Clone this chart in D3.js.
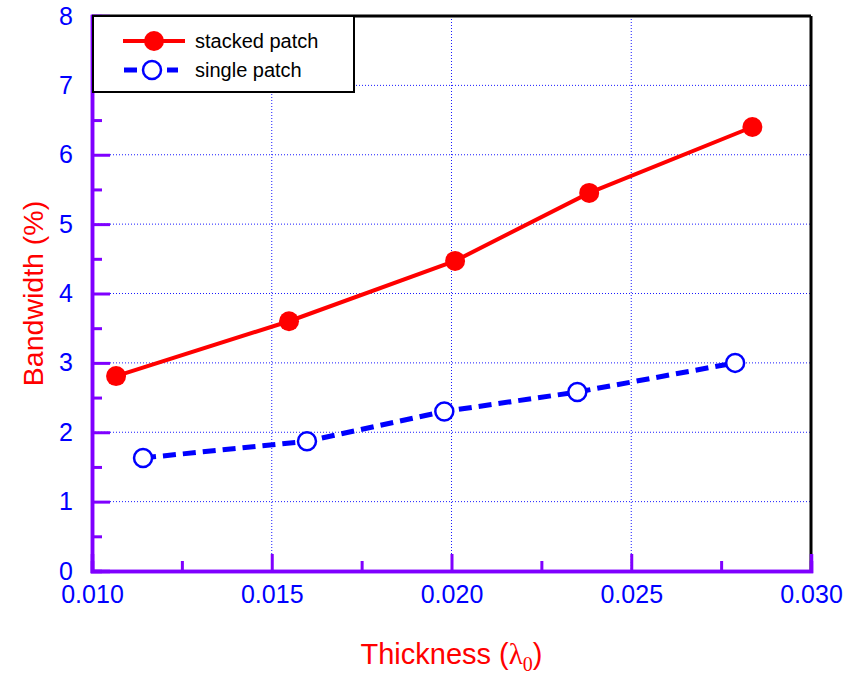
<!DOCTYPE html>
<html><head><meta charset="utf-8">
<script src="https://cdn.jsdelivr.net/npm/d3@7"></script>
<style>body{margin:0;background:#fff}svg{display:block;font-family:"Liberation Sans",Arial,sans-serif}</style>
</head><body>
<svg id="c" width="848" height="677"></svg>
<script>
const stackedX = [0.01067, 0.01548, 0.02010, 0.02383, 0.02837];
const stackedY = [2.81, 3.60, 4.47, 5.45, 6.40];
const singleX = [0.01142, 0.01598, 0.01980, 0.02350, 0.02789];
const singleY = [1.63, 1.87, 2.30, 2.58, 3.00];
const xTicks = [0.010, 0.015, 0.020, 0.025, 0.030];
const yTicks = [0, 1, 2, 3, 4, 5, 6, 7, 8];
const seriesNames = ["stacked patch", "single patch"];

const L = 92, R = 811, T = 16, B = 571;
const svg = d3.select("#c");
const x = d3.scaleLinear().domain([0.010, 0.030]).range([L, R]);
const y = d3.scaleLinear().domain([0, 8]).range([B, T]);
const purple = "#7f00ff";

// grid
const g = svg.append("g");
g.selectAll(".gx").data(xTicks.slice(1, -1)).join("line")
  .attr("x1", d => x(d)).attr("x2", d => x(d)).attr("y1", T).attr("y2", B)
  .attr("stroke", "#1a1aff").attr("stroke-width", 1).attr("stroke-dasharray", "1,2");
g.selectAll(".gy").data(yTicks.slice(1, -1)).join("line")
  .attr("y1", d => y(d)).attr("y2", d => y(d)).attr("x1", L).attr("x2", R)
  .attr("stroke", "#1a1aff").attr("stroke-width", 1).attr("stroke-dasharray", "1,2");

// frame top/right
svg.append("line").attr("x1", L).attr("x2", R).attr("y1", T).attr("y2", T).attr("stroke", "#000").attr("stroke-width", 3);
svg.append("line").attr("x1", R).attr("x2", R).attr("y1", T).attr("y2", B).attr("stroke", "#000").attr("stroke-width", 3);

// axes (inward ticks)
const xMinor = d3.range(0.0125, 0.030, 0.005);
const xa = svg.append("g").attr("transform", `translate(0,${B})`)
  .call(d3.axisBottom(x).tickValues(xTicks).tickFormat(d3.format(".3f")).tickSize(-17).tickPadding(27));
const xm = svg.append("g").attr("transform", `translate(0,${B})`)
  .call(d3.axisBottom(x).tickValues(xMinor).tickFormat("").tickSize(-10));
const ya = svg.append("g").attr("transform", `translate(${L},0)`)
  .call(d3.axisLeft(y).tickValues(yTicks).tickFormat(d3.format("d")).tickSize(-18).tickPadding(19));
const yMinor = d3.range(0.5, 8, 1);
const ym = svg.append("g").attr("transform", `translate(${L},0)`)
  .call(d3.axisLeft(y).tickValues(yMinor).tickFormat("").tickSize(-10));
[xa, xm, ya, ym].forEach(a => {
  a.select(".domain").attr("stroke", purple).attr("stroke-width", 3.5);
  a.selectAll(".tick line").attr("stroke", purple).attr("stroke-width", 3);
  a.selectAll(".tick text").attr("fill", "#0000ff").attr("font-size", 25)
    .attr("font-family", "'Liberation Sans',Arial,sans-serif");
});
xa.selectAll(".tick text").attr("dy", "0.2em");

// series
const line = d3.line().x(d => x(d[0])).y(d => y(d[1]));
const stacked = stackedX.map((v, i) => [v, stackedY[i]]);
const single = singleX.map((v, i) => [v, singleY[i]]);
svg.append("path").datum(stacked).attr("d", line).attr("fill", "none").attr("stroke", "#ff0000").attr("stroke-width", 4);
svg.append("path").datum(single).attr("d", line).attr("fill", "none").attr("stroke", "#0000ff").attr("stroke-width", 5).attr("stroke-dasharray", "13,7");
svg.selectAll(".ps").data(stacked).join("circle").attr("cx", d => x(d[0])).attr("cy", d => y(d[1]))
  .attr("r", 10).attr("fill", "#ff0000");
svg.selectAll(".pb").data(single).join("circle").attr("cx", d => x(d[0])).attr("cy", d => y(d[1]))
  .attr("r", 9).attr("fill", "#fff").attr("stroke", "#0000ff").attr("stroke-width", 2.5);

// legend
const lg = svg.append("g");
lg.append("rect").attr("x", 93).attr("y", 16).attr("width", 261).attr("height", 76)
  .attr("fill", "#fff").attr("stroke", "#000").attr("stroke-width", 2);
// stacked
lg.append("line").attr("x1", 123).attr("x2", 185).attr("y1", 41).attr("y2", 41)
  .attr("stroke", "#ff0000").attr("stroke-width", 4);
lg.append("circle").attr("cx", 154).attr("cy", 41).attr("r", 10).attr("fill", "#ff0000");
// single
[[124, 137], [167, 178]].forEach(s => lg.append("line").attr("x1", s[0]).attr("x2", s[1])
  .attr("y1", 70).attr("y2", 70).attr("stroke", "#0000ff").attr("stroke-width", 5));
lg.append("circle").attr("cx", 152).attr("cy", 70).attr("r", 9).attr("fill", "#fff")
  .attr("stroke", "#0000ff").attr("stroke-width", 2.5);
[[seriesNames[0], 48], [seriesNames[1], 77]].forEach(d => lg.append("text")
  .attr("x", 195).attr("y", d[1]).attr("font-size", 20).attr("fill", "#000").text(d[0]));

// titles
const xt = svg.append("text").attr("x", (L + R) / 2).attr("y", 664).attr("text-anchor", "middle")
  .attr("fill", "#ff0000").attr("font-size", 29);
xt.append("tspan").text("Thickness (");
xt.append("tspan").attr("font-family", "'Liberation Serif','Times New Roman',serif").text("λ");
xt.append("tspan").attr("font-family", "'Liberation Serif','Times New Roman',serif").attr("font-size", 20).attr("dy", 7).text("0");
xt.append("tspan").attr("dy", -7).text(")");
svg.append("text").attr("transform", `translate(43,${(T + B) / 2}) rotate(-90)`).attr("text-anchor", "middle")
  .attr("fill", "#ff0000").attr("font-size", 28.5).text("Bandwidth (%)");
</script>
</body></html>
